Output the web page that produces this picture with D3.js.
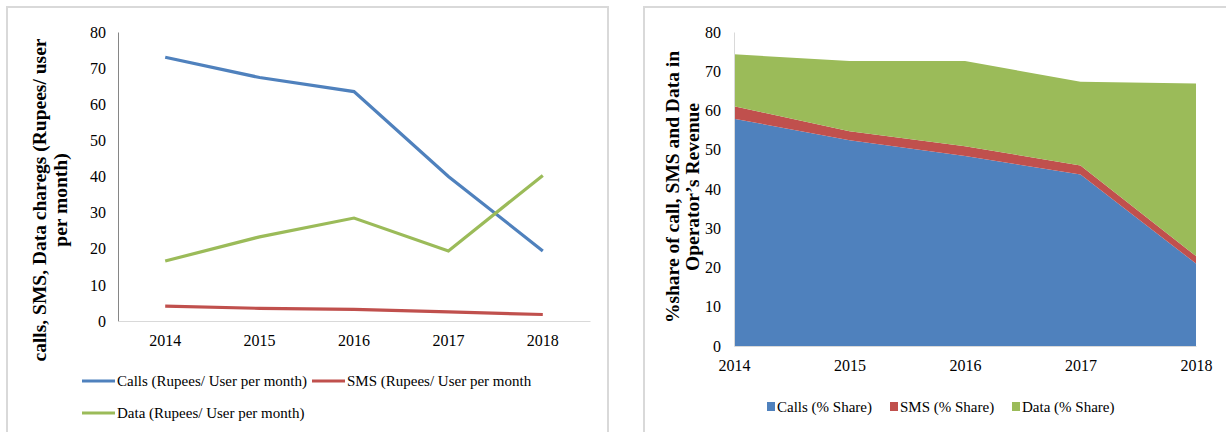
<!DOCTYPE html>
<html>
<head>
<meta charset="utf-8">
<script src="https://cdnjs.cloudflare.com/ajax/libs/d3/7.8.5/d3.min.js"></script>
<style>
  body { margin: 0; background: #fff; }
  svg { display: block; }
  svg text { font-family: "Liberation Serif", "Times New Roman", serif; fill: #000; }
</style>
</head>
<body>
<script>
// data
var years = ["2014", "2015", "2016", "2017", "2018"];
var callsRs = [73, 67.4, 63.5, 40, 19.4];
var smsRs = [4.1, 3.5, 3.2, 2.5, 1.8];
var dataRs = [16.6, 23.3, 28.5, 19.4, 40.3];
var callsShare = [57.9, 52.4, 48.4, 43.7, 21];
var smsShare = [3.2, 2.3, 2.5, 2.3, 1.9];
var dataShare = [13.2, 17.9, 21.7, 21.3, 44];
var yTicks = [0, 10, 20, 30, 40, 50, 60, 70, 80];

var blue = "#4f81bd", red = "#c0504d", green = "#9bbb59";

var svg = d3.select("body").append("svg")
    .attr("width", 1226)
    .attr("height", 432);

// panel borders
svg.append("rect").attr("x", 7).attr("y", 7).attr("width", 601).attr("height", 440)
    .attr("fill", "none").attr("stroke", "#d9d9d9").attr("stroke-width", 2);
svg.append("rect").attr("x", 644).attr("y", 7).attr("width", 600).attr("height", 440)
    .attr("fill", "none").attr("stroke", "#d9d9d9").attr("stroke-width", 2);

// ---------- left chart: line chart ----------
var x1 = d3.scaleBand().domain(years).range([118, 590]);
var y1 = d3.scaleLinear().domain([0, 80]).range([321, 32]);

var g1 = svg.append("g");

// y axis
var ya1 = g1.append("g").attr("transform", "translate(118,0)")
    .call(d3.axisLeft(y1).tickValues(yTicks).tickSize(0).tickPadding(12));
ya1.select(".domain").attr("stroke", "#868686");
ya1.selectAll("text").style("font-size", "16px");

// x axis
var xa1 = g1.append("g").attr("transform", "translate(0,321)")
    .call(d3.axisBottom(x1).tickSize(0).tickPadding(14));
xa1.select(".domain").attr("stroke", "#d9d9d9");
xa1.selectAll("text").style("font-size", "16px");

var line1 = d3.line()
    .x(function (d, i) { return x1(years[i]) + x1.bandwidth() / 2; })
    .y(function (d) { return y1(d); });

[[callsRs, blue], [smsRs, red], [dataRs, green]].forEach(function (s) {
    g1.append("path")
        .attr("d", line1(s[0]))
        .attr("fill", "none")
        .attr("stroke", s[1])
        .attr("stroke-width", 3.2);
});

// y title
var t1 = g1.append("text")
    .attr("transform", "translate(46,200) rotate(-90)")
    .attr("text-anchor", "middle")
    .style("font-weight", "bold")
    .style("font-size", "19.5px");
t1.append("tspan").attr("x", 0).attr("dy", 0).text("calls, SMS, Data charegs (Rupees/ user");
t1.append("tspan").attr("x", 0).attr("dy", 21).text("per month)");

// legend
var leg1 = [
    { name: "Calls (Rupees/ User per month)", color: blue, x: 82, y: 381 },
    { name: "SMS (Rupees/ User per month", color: red, x: 312, y: 381 },
    { name: "Data (Rupees/ User per month)", color: green, x: 82, y: 413 }
];
leg1.forEach(function (d) {
    g1.append("line")
        .attr("x1", d.x).attr("x2", d.x + 33)
        .attr("y1", d.y).attr("y2", d.y)
        .attr("stroke", d.color).attr("stroke-width", 3);
    g1.append("text")
        .attr("x", d.x + 35).attr("y", d.y + 5)
        .style("font-size", "15px")
        .text(d.name);
});

// ---------- right chart: stacked area ----------
var x2 = d3.scalePoint().domain(years).range([734, 1196]);
var y2 = d3.scaleLinear().domain([0, 80]).range([346, 32]);

var table = years.map(function (yr, i) {
    return { year: yr, calls: callsShare[i], sms: smsShare[i], data: dataShare[i] };
});
var stack = d3.stack().keys(["calls", "sms", "data"])(table);
var colors2 = { calls: blue, sms: red, data: green };

var g2 = svg.append("g");

var area = d3.area()
    .x(function (d) { return x2(d.data.year); })
    .y0(function (d) { return y2(d[0]); })
    .y1(function (d) { return y2(d[1]); });

g2.selectAll(".area")
    .data(stack)
    .enter().append("path")
    .attr("class", "area")
    .attr("d", area)
    .attr("fill", function (d) { return colors2[d.key]; });

var ya2 = g2.append("g").attr("transform", "translate(734,0)")
    .call(d3.axisLeft(y2).tickValues(yTicks).tickSize(0).tickPadding(13));
ya2.select(".domain").attr("stroke", "#d9d9d9");
ya2.selectAll("text").style("font-size", "16px");

var xa2 = g2.append("g").attr("transform", "translate(0,346)")
    .call(d3.axisBottom(x2).tickSize(0).tickPadding(14));
xa2.select(".domain").attr("stroke", "#d9d9d9");
xa2.selectAll("text").style("font-size", "16px");

var t2 = g2.append("text")
    .attr("transform", "translate(679,187) rotate(-90)")
    .attr("text-anchor", "middle")
    .style("font-weight", "bold")
    .style("font-size", "19.5px");
t2.append("tspan").attr("x", 0).attr("dy", 0).text("%share of call, SMS and Data in");
t2.append("tspan").attr("x", 0).attr("dy", 20).text("Operator\u2019s Revenue");

var leg2 = [
    { name: "Calls (% Share)", color: blue, x: 767 },
    { name: "SMS (% Share)", color: red, x: 890 },
    { name: "Data (% Share)", color: green, x: 1012 }
];
leg2.forEach(function (d) {
    g2.append("rect")
        .attr("x", d.x).attr("y", 402)
        .attr("width", 8).attr("height", 9)
        .attr("fill", d.color);
    g2.append("text")
        .attr("x", d.x + 10).attr("y", 412)
        .style("font-size", "15px")
        .text(d.name);
});
</script>
</body>
</html>
